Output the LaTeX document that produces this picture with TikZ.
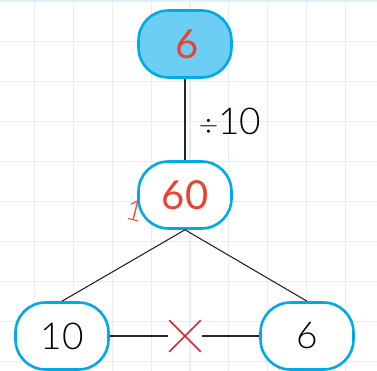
\documentclass[tikz,border=0pt]{standalone}
\usepackage{fontspec}
\setmainfont{Lato Light}
\newfontfamily\penfont{Lato}
\usetikzlibrary{shapes.misc}
\definecolor{GridClr}{rgb}{0.878,0.941,0.98}
\definecolor{BoxClr}{rgb}{0,0.667,0.902}
\definecolor{FillClr}{rgb}{0.427,0.808,0.957}
\definecolor{PenClr}{rgb}{0.925,0.255,0.2}
\definecolor{CrossClr}{rgb}{0.82,0.16,0.2}

\begin{document}
\begin{tikzpicture}[x=1pt,y=1pt,
  bubble/.style={draw=BoxClr,line width=2.6pt,rounded corners=30pt,
    minimum width=93pt,minimum height=67pt,inner sep=0pt,
    font=\fontsize{37}{40}\selectfont},
  pen/.style={text=PenClr,font=\fontsize{40}{42}\selectfont\penfont},
  link/.style={line width=1.1pt,color=black!85}]
\useasboundingbox (0,0) rectangle (377,371);

% grid
\foreach \x in {34.7,73.5,...,380} \draw[GridClr,line width=1.2pt] (\x,0) -- (\x,371);
\foreach \y in {9.3,49.3,...,375} \draw[GridClr,line width=1.2pt] (0,\y) -- (377,\y);
\draw[GridClr,line width=1.2pt] (0,370.5) -- (377,370.5);

\node[bubble,pen,fill=FillClr] (top) at (185,327) {\hspace{4pt}6};
\node[bubble,pen,fill=white] (mid) at (185,176) {60\hspace{16pt}};
\node[text=PenClr,font=\fontsize{29}{30}\selectfont,rotate=-14,inner sep=0pt]
  (one) at (135,160) {1};
\node[bubble,fill=white] (left) at (62,35) {10};
\node[bubble,fill=white] (right) at (307,35) {6};
\node[cross out,draw=CrossClr,line width=1.6pt,minimum size=30pt,inner sep=0pt]
  (times) at (185,35) {};

\node[font=\fontsize{37}{40}\selectfont,inner sep=0pt] (div) at (230,250) {\raisebox{2pt}{$\div$}10};

\draw[link] (top.south) -- (mid.north);
\draw[link] (mid.south) -- (left.north);
\draw[link] (mid.south) -- (right.north);
\draw[link] (left.east) -- ([xshift=-1pt]times.west);
\draw[link] ([xshift=1pt]times.east) -- (right.west);

\end{tikzpicture}
\end{document}
